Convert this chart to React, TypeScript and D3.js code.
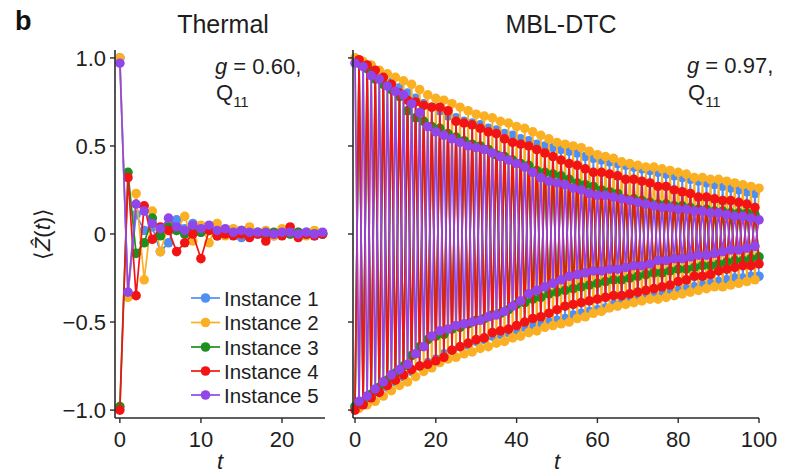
import React from 'react';
import * as d3 from 'd3';

const instanceNames = ['Instance 1', 'Instance 2', 'Instance 3', 'Instance 4', 'Instance 5'];
const instanceColors = ['#4f8ef5', '#fbb024', '#1c8f1c', '#f21414', '#9146ea'];

// Thermal panel (g = 0.60), t = 0..25
const thermal1 = [1.0, -0.34, 0.11, 0.02, 0.04, -0.10, -0.05, 0.08, 0.03, 0.06, 0.01, 0.03, 0.02, 0.0, 0.01, -0.02, 0.01, 0.0, 0.01, -0.01, 0.0, 0.01, 0.0, 0.01, -0.01, 0.0];
const thermal2 = [1.0, -0.36, 0.23, -0.26, 0.13, -0.10, 0.05, 0.02, 0.10, -0.04, 0.05, -0.05, 0.06, -0.01, 0.03, 0.0, 0.04, 0.0, 0.02, -0.01, 0.03, 0.0, 0.01, -0.01, 0.02, 0.0];
const thermal3 = [-0.98, 0.35, -0.11, -0.05, 0.09, -0.01, 0.04, 0.02, 0.0, 0.03, 0.01, 0.02, -0.01, 0.01, 0.0, 0.02, 0.0, 0.01, 0.0, 0.01, 0.0, 0.0, 0.01, 0.0, 0.0, 0.0];
const thermal4 = [-1.0, 0.32, -0.35, 0.16, -0.03, 0.04, 0.02, -0.10, -0.05, 0.0, -0.14, 0.02, -0.01, 0.0, -0.01, 0.0, -0.02, 0.0, -0.04, 0.0, -0.01, 0.04, -0.02, 0.0, -0.01, 0.0];
const thermal5 = [0.97, -0.33, 0.17, 0.13, 0.06, 0.03, 0.09, 0.04, 0.02, 0.05, 0.03, 0.05, 0.02, 0.03, 0.01, 0.02, 0.01, 0.01, 0.01, 0.0, 0.01, 0.01, 0.0, 0.01, 0.0, 0.01];

// MBL-DTC panel (g = 0.97), t = 0..100
const mbl1 = [
  -0.98, 0.97, -0.95, 0.94, -0.93, 0.91, -0.90, 0.88, -0.87, 0.86,
  -0.84, 0.83, -0.81, 0.80, -0.78, 0.77, -0.75, 0.74, -0.73, 0.72,
  -0.71, 0.70, -0.68, 0.67, -0.66, 0.66, -0.64, 0.64, -0.63, 0.63,
  -0.61, 0.62, -0.60, 0.60, -0.58, 0.59, -0.57, 0.57, -0.56, 0.56,
  -0.55, 0.54, -0.53, 0.53, -0.52, 0.51, -0.51, 0.50, -0.50, 0.49,
  -0.49, 0.48, -0.48, 0.47, -0.46, 0.46, -0.45, 0.44, -0.44, 0.43,
  -0.43, 0.42, -0.42, 0.41, -0.40, 0.40, -0.39, 0.39, -0.38, 0.38,
  -0.37, 0.37, -0.36, 0.36, -0.35, 0.35, -0.34, 0.34, -0.33, 0.33,
  -0.32, 0.32, -0.31, 0.31, -0.30, 0.30, -0.29, 0.29, -0.28, 0.28,
  -0.27, 0.27, -0.26, 0.26, -0.25, 0.25, -0.25, 0.24, -0.24, 0.23,
  -0.24,
];
const mbl2 = [
  1.00, -0.99, 0.98, -0.97, 0.96, -0.95, 0.93, -0.92, 0.91, -0.89,
  0.89, -0.86, 0.87, -0.84, 0.85, -0.81, 0.82, -0.78, 0.79, -0.76,
  0.77, -0.73, 0.76, -0.71, 0.74, -0.70, 0.72, -0.68, 0.70, -0.67,
  0.68, -0.65, 0.67, -0.64, 0.66, -0.62, 0.64, -0.61, 0.63, -0.59,
  0.61, -0.58, 0.60, -0.56, 0.58, -0.55, 0.56, -0.53, 0.54, -0.52,
  0.52, -0.51, 0.51, -0.50, 0.50, -0.48, 0.49, -0.47, 0.47, -0.45,
  0.45, -0.44, 0.44, -0.42, 0.43, -0.41, 0.41, -0.40, 0.40, -0.39,
  0.39, -0.38, 0.38, -0.37, 0.38, -0.37, 0.37, -0.36, 0.36, -0.35,
  0.35, -0.34, 0.34, -0.33, 0.32, -0.32, 0.32, -0.31, 0.31, -0.30,
  0.31, -0.30, 0.30, -0.29, 0.29, -0.28, 0.28, -0.27, 0.27, -0.26,
  0.26,
];
const mbl3 = [
  -0.98, 0.97, -0.96, 0.94, -0.91, 0.88, -0.87, 0.85, -0.83, 0.82,
  -0.79, 0.78, -0.75, 0.70, -0.69, 0.66, -0.64, 0.64, -0.60, 0.61,
  -0.58, 0.60, -0.57, 0.57, -0.54, 0.55, -0.53, 0.53, -0.51, 0.51,
  -0.49, 0.50, -0.48, 0.48, -0.46, 0.45, -0.45, 0.44, -0.43, 0.42,
  -0.40, 0.40, -0.39, 0.39, -0.37, 0.36, -0.36, 0.35, -0.34, 0.34,
  -0.33, 0.33, -0.32, 0.31, -0.31, 0.29, -0.30, 0.28, -0.29, 0.27,
  -0.28, 0.25, -0.27, 0.24, -0.26, 0.23, -0.26, 0.20, -0.25, 0.20,
  -0.24, 0.19, -0.23, 0.18, -0.22, 0.17, -0.22, 0.17, -0.21, 0.16,
  -0.20, 0.16, -0.20, 0.15, -0.19, 0.14, -0.18, 0.14, -0.18, 0.13,
  -0.17, 0.13, -0.16, 0.12, -0.15, 0.12, -0.15, 0.12, -0.14, 0.11,
  -0.13,
];
const mbl4 = [
  -1.00, 0.99, -0.97, 0.96, -0.93, 0.93, -0.90, 0.89, -0.86, 0.85,
  -0.83, 0.80, -0.80, 0.76, -0.77, 0.75, -0.75, 0.73, -0.74, 0.72,
  -0.72, 0.72, -0.70, 0.70, -0.66, 0.64, -0.64, 0.63, -0.62, 0.62,
  -0.60, 0.60, -0.59, 0.58, -0.56, 0.57, -0.55, 0.54, -0.54, 0.52,
  -0.52, 0.51, -0.50, 0.50, -0.48, 0.48, -0.47, 0.46, -0.45, 0.44,
  -0.43, 0.42, -0.41, 0.40, -0.40, 0.39, -0.39, 0.37, -0.38, 0.35,
  -0.37, 0.35, -0.36, 0.34, -0.35, 0.33, -0.35, 0.31, -0.34, 0.31,
  -0.33, 0.30, -0.32, 0.29, -0.31, 0.27, -0.30, 0.27, -0.29, 0.25,
  -0.27, 0.24, -0.26, 0.23, -0.24, 0.21, -0.24, 0.21, -0.23, 0.20,
  -0.21, 0.19, -0.20, 0.19, -0.19, 0.18, -0.18, 0.17, -0.18, 0.15,
  -0.17,
];
const mbl5 = [
  0.97, -0.95, 0.95, -0.92, 0.90, -0.88, 0.88, -0.84, 0.84, -0.80,
  0.81, -0.77, 0.79, -0.74, 0.74, -0.68, 0.69, -0.64, 0.61, -0.58,
  0.58, -0.55, 0.56, -0.54, 0.54, -0.52, 0.52, -0.51, 0.50, -0.50,
  0.49, -0.49, 0.48, -0.47, 0.46, -0.46, 0.44, -0.44, 0.42, -0.41,
  0.40, -0.38, 0.38, -0.34, 0.35, -0.32, 0.32, -0.30, 0.30, -0.28,
  0.29, -0.26, 0.28, -0.24, 0.26, -0.23, 0.25, -0.22, 0.23, -0.21,
  0.22, -0.21, 0.22, -0.20, 0.21, -0.20, 0.20, -0.19, 0.19, -0.18,
  0.18, -0.18, 0.17, -0.17, 0.16, -0.15, 0.15, -0.15, 0.15, -0.14,
  0.14, -0.14, 0.14, -0.13, 0.13, -0.12, 0.13, -0.12, 0.12, -0.11,
  0.12, -0.10, 0.11, -0.09, 0.10, -0.09, 0.10, -0.08, 0.09, -0.07,
  0.08,
];

const thermalSeries = [thermal1, thermal2, thermal3, thermal4, thermal5];
const mblSeries = [mbl1, mbl2, mbl3, mbl4, mbl5];

const yTicks = [-1, -0.5, 0, 0.5, 1];
const yTickLabels = ['\u22121.0', '\u22120.5', '0', '0.5', '1.0'];
const thermalXTicks = [0, 10, 20];
const mblXTicks = [0, 20, 40, 60, 80, 100];

const FONT = "'Liberation Sans', Arial, Helvetica, sans-serif";
const AXIS = '#2a2a2a';
const TEXT = '#1e1e1e';
const R = 4.8;

type PanelProps = {
  xs: d3.ScaleLinear<number, number>;
  ys: d3.ScaleLinear<number, number>;
  data: number[][];
  xTicks: number[];
  showYLabels: boolean;
};

function Panel({ xs, ys, data, xTicks, showYLabels }: PanelProps) {
  const line = d3
    .line<number>()
    .x((_, i) => xs(i))
    .y((d) => ys(d));
  const [x0, x1] = xs.range();
  const [yb, yt] = ys.range();
  return (
    <g>
      {data.map((s, k) => (
        <g key={k}>
          <path d={line(s) || ''} fill="none" stroke={instanceColors[k]} strokeWidth={1.7} />
          {s.map((v, i) => (
            <circle key={i} cx={xs(i)} cy={ys(v)} r={R} fill={instanceColors[k]} />
          ))}
        </g>
      ))}
      <line x1={x0} x2={x0} y1={yt} y2={yb} stroke={AXIS} strokeWidth={1.6} />
      <line x1={x0} x2={x1} y1={yb} y2={yb} stroke={AXIS} strokeWidth={1.6} />
      {yTicks.map((t, i) => (
        <g key={i}>
          <line x1={x0 - 5} x2={x0} y1={ys(t)} y2={ys(t)} stroke={AXIS} strokeWidth={1.4} />
          {showYLabels && (
            <text x={x0 - 9} y={ys(t) + 8} textAnchor="end" fontSize={22} fill={TEXT} fontFamily={FONT}>
              {yTickLabels[i]}
            </text>
          )}
        </g>
      ))}
      {xTicks.map((t, i) => (
        <g key={i}>
          <line x1={xs(t)} x2={xs(t)} y1={yb} y2={yb + 5} stroke={AXIS} strokeWidth={1.4} />
          <text x={xs(t)} y={yb + 29} textAnchor="middle" fontSize={22} fill={TEXT} fontFamily={FONT}>
            {t}
          </text>
        </g>
      ))}
    </g>
  );
}

export default function App() {
  const ys = d3.scaleLinear().domain([-1.045, 1.045]).range([418, 50]);
  const xsThermal = d3.scaleLinear().domain([-0.6, 25.3]).range([115, 325]);
  const xsMbl = d3.scaleLinear().domain([-0.5, 100]).range([353, 759]);

  const legendY = [298, 322.5, 347, 371, 395];

  return (
    <div style={{ position: 'absolute', left: 0, top: 0 }}>
      <svg width={799} height={474} style={{ display: 'block', background: '#fff' }} fontFamily={FONT}>
        <rect width={799} height={474} fill="#fff" />
        <text x={15} y={30} fontSize={27} fontWeight="bold" fill="#111">b</text>
        <text x={223} y={33} textAnchor="middle" fontSize={25} fill={TEXT}>Thermal</text>
        <text x={561} y={33} textAnchor="middle" fontSize={25} fill={TEXT}>MBL-DTC</text>

        <Panel xs={xsThermal} ys={ys} data={thermalSeries} xTicks={thermalXTicks} showYLabels={true} />
        <Panel xs={xsMbl} ys={ys} data={mblSeries} xTicks={mblXTicks} showYLabels={false} />

        {/* annotations */}
        <text x={215} y={74} fontSize={22} fill={TEXT}>
          <tspan fontStyle="italic">g</tspan> = 0.60,
        </text>
        <text x={216} y={100} fontSize={22} fill={TEXT}>
          Q<tspan fontSize={15} dy={7}>11</tspan>
        </text>
        <text x={687} y={73} fontSize={22} fill={TEXT}>
          <tspan fontStyle="italic">g</tspan> = 0.97,
        </text>
        <text x={688} y={100} fontSize={22} fill={TEXT}>
          Q<tspan fontSize={15} dy={7}>11</tspan>
        </text>

        {/* axis labels */}
        <text transform="translate(50,234) rotate(-90)" textAnchor="middle" fontSize={22} fill={TEXT}>
          {'\u27E8'}
          <tspan fontStyle="italic">{'Z\u0302'}</tspan>
          (<tspan fontStyle="italic">t</tspan>){'\u27E9'}
        </text>
        <text x={220} y={469} textAnchor="middle" fontSize={22} fontStyle="italic" fill={TEXT}>t</text>
        <text x={557} y={469} textAnchor="middle" fontSize={22} fontStyle="italic" fill={TEXT}>t</text>

        {/* legend */}
        {instanceNames.map((name, k) => (
          <g key={k}>
            <line x1={191} x2={220} y1={legendY[k]} y2={legendY[k]} stroke={instanceColors[k]} strokeWidth={1.7} />
            <circle cx={205.5} cy={legendY[k]} r={R} fill={instanceColors[k]} />
            <text x={224} y={legendY[k] + 7.5} fontSize={20.5} fill={TEXT}>{name}</text>
          </g>
        ))}
      </svg>
    </div>
  );
}
